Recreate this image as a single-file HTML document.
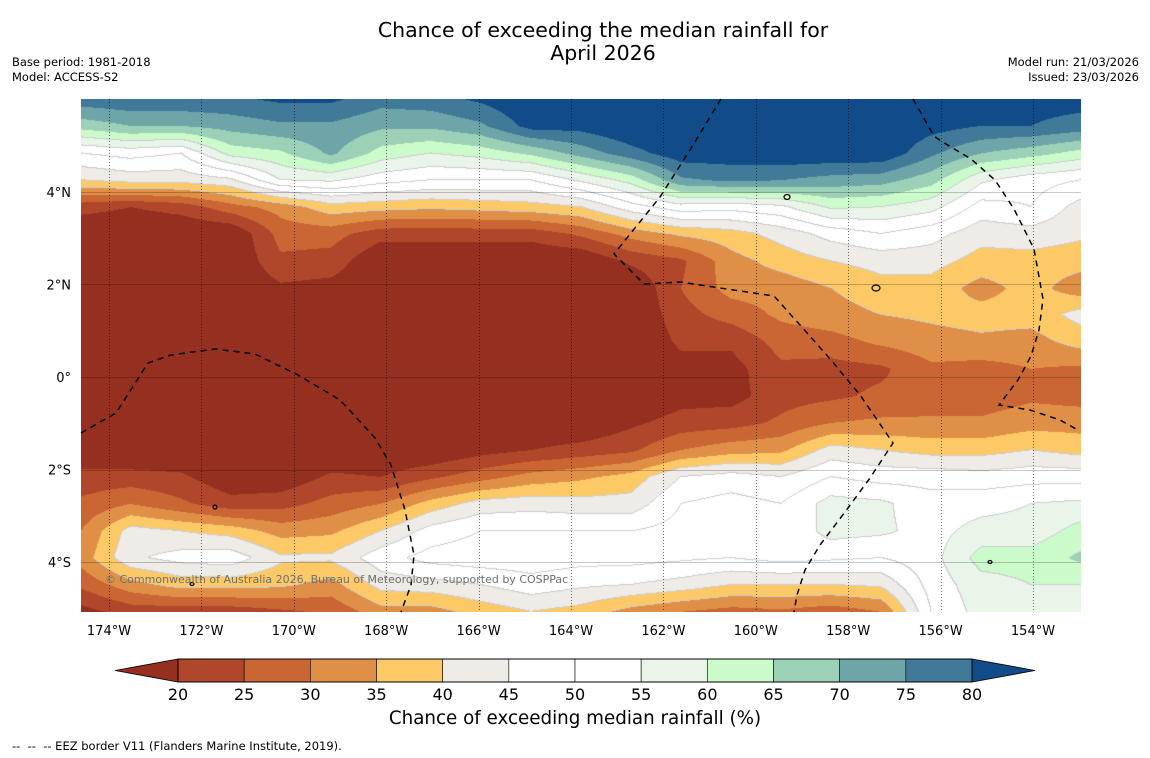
<!DOCTYPE html>
<html><head><meta charset="utf-8">
<style>
body{margin:0;background:#fff;width:1150px;height:758px;overflow:hidden;position:relative;font-family:"DejaVu Sans","Liberation Sans",sans-serif;color:#000}
.t{position:absolute;white-space:nowrap}
</style></head><body>
<div class="t" style="left:0;width:1206px;top:19px;text-align:center;font-size:20.5px;line-height:23px">Chance of exceeding the median rainfall for<br>April 2026</div>
<div class="t" style="left:12px;top:55px;font-size:11.5px;line-height:15px">Base period: 1981-2018<br>Model: ACCESS-S2</div>
<div class="t" style="right:11px;top:55px;font-size:11.5px;line-height:15px;text-align:right">Model run: 21/03/2026<br>Issued: 23/03/2026</div>
<canvas id="map" width="1000" height="513" style="position:absolute;left:81px;top:99px"></canvas>
<svg id="ov" width="1150" height="758" style="position:absolute;left:0;top:0"></svg>
<div class="t" style="left:105px;top:573px;font-size:11px;color:#6e6e6e">© Commonwealth of Australia 2026, Bureau of Meteorology, supported by COSPPac</div>
<div class="t" style="left:0;width:1150px;top:708px;text-align:center;font-size:18.3px">Chance of exceeding median rainfall (%)</div>
<div class="t" style="left:12px;top:739px;font-size:11.5px">--&nbsp;&nbsp;--&nbsp;&nbsp;-- EEZ border V11 (Flanders Marine Institute, 2019).</div>
<script>
const lons=[-174.61,-173.53,-172.44,-171.36,-170.28,-169.19,-168.11,-167.03,-165.95,-164.86,-163.78,-162.70,-161.62,-160.53,-159.45,-158.37,-157.29,-156.20,-155.12,-154.04,-152.96];
const lats=[6.00,5.42,4.83,4.25,3.67,3.09,2.50,1.92,1.34,0.76,0.17,-0.41,-0.99,-1.58,-2.16,-2.74,-3.33,-3.91,-4.49,-5.07];
const values=[
[78,79,79,79,81,81,77,78,81,85,85,85,85,85,85,85,85,85,82,82,82],
[67,70,70,72,74,74,71,71,74,82,82,85,85,85,85,85,85,82,80,80,78],
[50,52,50,62,64,71,63,60,62,66,72,78,83,83,84,84,84,76,70,67,63],
[40,42,42,44,55,56,52,50,50,50,56,62,74,76,75,73,72,67,56,52,50],
[22,20,22,28,32,38,37,36,37,38,40,48,53,52,54,61,60,57,48,50,43],
[15,15,15,15,27,27,22,22,22,22,26,32,36,38,42,47,50,47,42,43,41],
[15,15,15,15,24,23,15,15,15,15,15,21,24,33,37,40,42,42,38,38,37],
[15,15,15,15,19,18,15,15,15,15,15,15,25,32,32,35,38,38,33,37,32],
[15,15,15,15,15,15,15,15,15,15,15,15,23,27,31,33,35,36,37,37,42],
[15,15,15,15,15,15,15,15,15,15,15,15,21,21,27,28,31,33,34,33,37],
[15,15,15,15,15,15,15,15,15,15,15,15,18,18,24,23,24,29,28,30,29],
[15,15,15,15,15,15,15,15,15,15,15,15,18,18,23,24,26,27,27,29,28],
[15,15,15,15,15,15,15,15,15,15,15,19,22,23,26,30,31,31,31,33,33],
[15,15,15,15,15,15,15,15,18,20,22,24,30,33,34,42,40,38,38,40,38],
[22,22,21,16,16,21,20,24,28,32,34,37,45,47,45,50,48,48,47,48,48],
[26,30,26,22,23,27,30,37,42,43,42,42,50,52,50,57,56,52,53,55,56],
[30,42,40,38,33,34,40,47,50,50,50,50,52,52,50,57,56,53,57,57,62],
[32,44,47,48,41,41,48,52,53,53,52,52,51,50,52,51,50,53,62,62,66],
[26,33,37,37,36,33,42,43,45,48,46,45,43,40,40,40,41,52,58,60,60],
[18,22,22,22,24,26,33,33,37,40,38,33,30,28,29,27,30,50,57,57,57]];
const levels=[20,25,30,35,40,45,50,55,60,65,70,75,80];
const bandColors=["#952f20","#b0472a","#c96634","#e09046","#fdc966","#efebe6","#ffffff","#ffffff","#eaf5ea","#ccfbcb","#9cd1b8","#6ea5a8","#417a98","#124c88"];
const lonTicks=[-174,-172,-170,-168,-166,-164,-162,-160,-158,-156,-154];
const latTicks=[4,2,0,-2,-4];

const PX=81,PY=99,PW=1000,PH=513;
function xOf(lon){return 109+(lon+174)*46.2;}
function yOf(lat){return 377-lat*46.3;}
function lonOf(x){return (x-109)/46.2-174;}
function latOf(y){return (377-y)/46.3;}
function hex(c){return [parseInt(c.substr(1,2),16),parseInt(c.substr(3,2),16),parseInt(c.substr(5,2),16)];}
const rgb=bandColors.map(hex);
function band(v){let b=0;while(b<levels.length&&v>=levels[b])b++;return b;}
function sample(lon,lat){
  let i=0;while(i<lons.length-2&&lon>lons[i+1])i++;
  let j=0;while(j<lats.length-2&&lat<lats[j+1])j++;
  let tx=(lon-lons[i])/(lons[i+1]-lons[i]);tx=Math.max(0,Math.min(1,tx));
  let ty=(lats[j]-lat)/(lats[j]-lats[j+1]);ty=Math.max(0,Math.min(1,ty));
  const a=values[j][i],b=values[j][i+1],c=values[j+1][i],d=values[j+1][i+1];
  return a*(1-tx)*(1-ty)+b*tx*(1-ty)+c*(1-tx)*ty+d*tx*ty;
}
const cv=document.getElementById('map');const ctx=cv.getContext('2d');
const img=ctx.createImageData(PW,PH);
const B=new Uint8Array(PW*PH);
for(let y=0;y<PH;y++){const lat=latOf(PY+y+0.5);for(let x=0;x<PW;x++){B[y*PW+x]=band(sample(lonOf(PX+x+0.5),lat));}}
for(let y=0;y<PH;y++)for(let x=0;x<PW;x++){
  const k=y*PW+x,b=B[k];let c=rgb[b];
  const edge=(x<PW-1&&B[k+1]!==b)||(y<PH-1&&B[k+PW]!==b);
  if(edge&&b>=4&&b<=9){c=[205,205,205];}
  img.data[k*4]=c[0];img.data[k*4+1]=c[1];img.data[k*4+2]=c[2];img.data[k*4+3]=255;
}
ctx.putImageData(img,0,0);

const NS='http://www.w3.org/2000/svg';const ov=document.getElementById('ov');
function mk(tag,attrs){const e=document.createElementNS(NS,tag);for(const k in attrs)e.setAttribute(k,attrs[k]);ov.appendChild(e);return e;}
lonTicks.forEach(lon=>{const x=Math.round(xOf(lon))+0.5;
  const l=mk('line',{x1:x,y1:PY,x2:x,y2:PY+PH,stroke:'rgba(0,0,0,0.55)','stroke-width':1,'stroke-dasharray':'1,2'});
  
  
  const t=mk('text',{x:xOf(lon),y:635,'text-anchor':'middle','font-size':13,'font-family':'DejaVu Sans, Liberation Sans, sans-serif'});
  t.textContent=Math.abs(lon)+'°W';
  
  
});
latTicks.forEach(lat=>{const y=Math.round(yOf(lat))+0.5;
  const l=mk('line',{x1:PX,y1:y,x2:PX+PW,y2:y,stroke:'rgba(0,0,0,0.22)','stroke-width':1});
  
  
  const t=mk('text',{x:71,y:yOf(lat)+5,'text-anchor':'end','font-size':13,'font-family':'DejaVu Sans, Liberation Sans, sans-serif'});
  t.textContent=lat===0?'0°':Math.abs(lat)+'°'+(lat>0?'N':'S');
  
  
});
const eez=[
 [[81,433],[116,413],[148,363],[171,355],[215,349],[255,354],[298,375],[340,400],[354,415],[375,438],[391,465],[405,510],[414,555],[411,585],[401,612]],
 [[721,99],[690,150],[660,197],[614,254],[644,284],[680,282],[720,288],[774,296],[800,325],[831,360],[860,395],[893,443],[870,478],[845,512],[820,545],[805,570],[797,595],[794,612]],
 [[913,99],[934,136],[941,141],[971,159],[995,180],[1014,209],[1034,249],[1043,299],[1039,330],[1031,356],[1018,380],[999,405],[1030,410],[1060,420],[1078,430]]];
eez.forEach(p=>{const pl=mk('polyline',{points:p.map(q=>q.join(',')).join(' '),fill:'none',stroke:'#000','stroke-width':1.5,'stroke-dasharray':'6,5'});
  
  });
[[787,197,3,2.5],[215,507,2,2],[876,288,4,3],[192,584,2,1.5],[990,562,2,1.5]].forEach(s=>{
  const e=mk('ellipse',{cx:s[0],cy:s[1],rx:s[2],ry:s[3],fill:'none',stroke:'#000','stroke-width':1.2});
  
  });
const cbX0=178,cbX1=972,cbY=659,cbH=23;const step=(cbX1-cbX0)/(levels.length-1);
for(let i=0;i<levels.length-1;i++){
  const r=mk('rect',{x:cbX0+i*step,y:cbY,width:step,height:cbH,fill:bandColors[i+1],stroke:'#000','stroke-width':0.6});
  
  }
const tl=mk('polygon',{points:`${cbX0},${cbY} 115,${cbY+cbH/2} ${cbX0},${cbY+cbH}`,fill:bandColors[0],stroke:'#000','stroke-width':0.8});


const tr=mk('polygon',{points:`${cbX1},${cbY} 1035,${cbY+cbH/2} ${cbX1},${cbY+cbH}`,fill:bandColors[13],stroke:'#000','stroke-width':0.8});


const fr=mk('rect',{x:cbX0,y:cbY,width:cbX1-cbX0,height:cbH,fill:'none',stroke:'#000','stroke-width':1});


levels.forEach((v,i)=>{const t=mk('text',{x:cbX0+i*step,y:700,'text-anchor':'middle','font-size':16,'font-family':'DejaVu Sans, Liberation Sans, sans-serif'});
  t.textContent=v;
  
  });
</script>
</body></html>
